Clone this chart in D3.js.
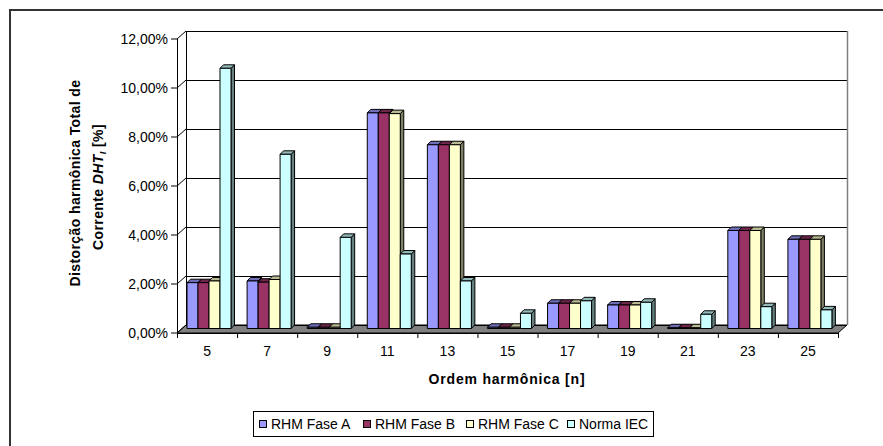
<!DOCTYPE html>
<html><head><meta charset="utf-8">
<script src="https://cdn.jsdelivr.net/npm/d3@7"></script>
<style>body{margin:0;background:#fff}svg{display:block}text{font-family:"Liberation Sans",Arial,sans-serif}</style>
</head><body>
<svg id="c" width="883" height="446"></svg>
<script>
const categories = ["5","7","9","11","13","15","17","19","21","23","25"];
const seriesNames = ["RHM Fase A","RHM Fase B","RHM Fase C","Norma IEC"];
const faseA = [1.87,1.94,0.05,8.8,7.5,0.05,1.03,0.96,0.03,4.0,3.64];
const faseB = [1.87,1.89,0.05,8.8,7.5,0.05,1.03,0.96,0.03,4.0,3.64];
const faseC = [1.94,2.0,0.05,8.77,7.5,0.05,1.03,0.96,0.03,4.0,3.64];
const normaIEC = [10.62,7.11,3.72,3.04,1.94,0.62,1.13,1.07,0.58,0.89,0.76];
const yTicks = [0,2,4,6,8,10,12];
const colors = ["#9999FF","#993366","#FFFFCC","#CCFFFF"];
const seriesValues = [faseA,faseB,faseC,normaIEC];

const svg = d3.select("#c");
const DX = 9, DY = 8;          // full depth offset of back wall
const BF = 4.5, BB = 8;        // bar front/back depth
const x = d3.scaleBand().domain(categories).range([177, 838]).padding(0);
const xi = d3.scaleBand().domain(seriesNames).range([5.5, 49.5]).padding(0);
const y = d3.scaleLinear().domain([0,12]).range([333, 39]);
const fmt = v => d3.format(".2f")(v).replace(".", ",") + "%";

// outer frame
svg.append("rect").attr("x",10).attr("y",10).attr("width",900).attr("height",500)
  .attr("fill","none").attr("stroke","#333").attr("stroke-width",2);

const x0 = x.range()[0], x1 = x.range()[1];
// floor
svg.append("polygon")
  .attr("points",[[x0,y(0)],[x0+DX,y(0)-DY],[x1+DX,y(0)-DY],[x1,y(0)]].join(" "))
  .attr("fill","#808080").attr("stroke","#000").attr("stroke-width",1);
// back wall grid lines, side wall lines, ticks
yTicks.forEach(t=>{
  svg.append("line").attr("x1",x0+DX).attr("x2",x1+DX)
    .attr("y1",Math.round(y(t)-DY)+0.5).attr("y2",Math.round(y(t)-DY)+0.5)
    .attr("stroke","#000").attr("stroke-width",1);
  svg.append("line").attr("x1",x0).attr("y1",y(t)).attr("x2",x0+DX).attr("y2",y(t)-DY)
    .attr("stroke","#000").attr("stroke-width",1);
  svg.append("line").attr("x1",x0-6).attr("x2",x0).attr("y1",y(t)).attr("y2",y(t))
    .attr("stroke","#000").attr("stroke-width",1);
});
svg.append("line").attr("x1",x0+DX+0.5).attr("x2",x0+DX+0.5).attr("y1",y(12)-DY).attr("y2",y(0)-DY).attr("stroke","#000");
svg.append("line").attr("x1",x1+DX+0.5).attr("x2",x1+DX+0.5).attr("y1",y(12)-DY).attr("y2",y(0)-DY).attr("stroke","#808080").attr("stroke-width",1.5);
svg.append("line").attr("x1",x0+0.5).attr("x2",x0+0.5).attr("y1",y(12)).attr("y2",y(0)).attr("stroke","#000");

// y tick labels
svg.append("g").selectAll("text").data(yTicks).join("text")
  .attr("x",168).attr("y",t=>y(t)+5).attr("text-anchor","end")
  .attr("font-size",14).text(fmt);

// bars
const shade = (c,k) => { const r=d3.rgb(c); return d3.rgb(r.r*k,r.g*k,r.b*k).formatHex(); };
const d = BB-BF;
categories.forEach((cat,ci)=>{
  seriesNames.forEach((s,si)=>{
    const v = seriesValues[si][ci];
    const bx = x(cat)+xi(s)+BF, bw = xi.bandwidth();
    const yb = y(0)-BF, yt = y(v)-BF;
    const g = svg.append("g").attr("stroke","#000").attr("stroke-width",1).attr("stroke-linejoin","round");
    g.append("polygon").attr("points",[[bx+bw,yt],[bx+bw+d,yt-d],[bx+bw+d,yb-d],[bx+bw,yb]].join(" "))
      .attr("fill",shade(colors[si],0.5));
    g.append("polygon").attr("points",[[bx,yt],[bx+d,yt-d],[bx+bw+d,yt-d],[bx+bw,yt]].join(" "))
      .attr("fill",shade(colors[si],0.72));
    g.append("rect").attr("x",bx).attr("y",yt).attr("width",bw).attr("height",Math.max(0,yb-yt))
      .attr("fill",colors[si]);
  });
});

// x axis line & ticks
svg.append("line").attr("x1",x0).attr("x2",x1).attr("y1",y(0)+0.5).attr("y2",y(0)+0.5).attr("stroke","#000");
svg.append("g").selectAll("line").data(categories.concat(["end"])).join("line")
  .attr("x1",(c,i)=>x0+i*x.bandwidth()+0.5).attr("x2",(c,i)=>x0+i*x.bandwidth()+0.5)
  .attr("y1",y(0)).attr("y2",y(0)+5).attr("stroke","#000");
svg.append("g").selectAll("text").data(categories).join("text")
  .attr("x",c=>x(c)+x.bandwidth()/2).attr("y",356).attr("text-anchor","middle")
  .attr("font-size",14).text(c=>c);

// axis titles
svg.append("text").attr("x",507).attr("y",384).attr("text-anchor","middle")
  .attr("font-size",14).attr("font-weight","bold").attr("letter-spacing",0.8).text("Ordem harmônica [n]");
const yt1 = svg.append("text").attr("transform","translate(80,183) rotate(-90)")
  .attr("text-anchor","middle").attr("font-size",14).attr("font-weight","bold").attr("letter-spacing",0.4);
yt1.text("Distorção harmônica Total de");
const yt2 = svg.append("text").attr("transform","translate(103,187) rotate(-90)")
  .attr("text-anchor","middle").attr("font-size",14).attr("font-weight","bold").attr("letter-spacing",0.4);
yt2.append("tspan").text("Corrente  ");
yt2.append("tspan").attr("font-style","italic").text("DHT");
yt2.append("tspan").attr("font-style","italic").attr("font-size",9).attr("dy",3).text("I");
yt2.append("tspan").attr("dy",-3).text(" [%]");

// legend
const lg = svg.append("g");
lg.append("rect").attr("x",253.5).attr("y",411.5).attr("width",400).attr("height",25)
  .attr("fill","#fff").attr("stroke","#000");
const lx = [259, 363, 466, 567];
seriesNames.forEach((s,i)=>{
  lg.append("rect").attr("x",lx[i]+0.5).attr("y",420.5).attr("width",7).attr("height",7)
    .attr("fill",colors[i]).attr("stroke","#000");
  lg.append("text").attr("x",lx[i]+12).attr("y",429).attr("font-size",14).text(s);
});
</script>
</body></html>
